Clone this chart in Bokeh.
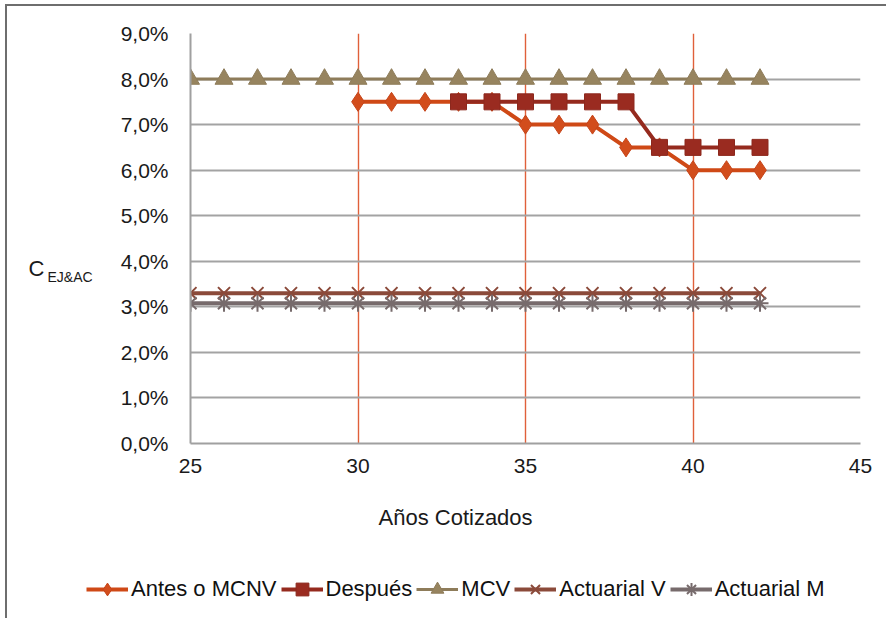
from bokeh.plotting import figure
from bokeh.models import Range1d, Legend, LegendItem, FixedTicker, LinearAxis, Title
from bokeh.layouts import column
from bokeh.embed import file_html
from bokeh.resources import INLINE

# ---- data ----
years_all = [25, 26, 27, 28, 29, 30, 31, 32, 33, 34, 35, 36, 37, 38, 39, 40, 41, 42]
antes_years = [30, 31, 32, 33, 34, 35, 36, 37, 38, 39, 40, 41, 42]
antes = [7.5, 7.5, 7.5, 7.5, 7.5, 7.0, 7.0, 7.0, 6.5, 6.5, 6.0, 6.0, 6.0]
despues_years = [33, 34, 35, 36, 37, 38, 39, 40, 41, 42]
despues = [7.5, 7.5, 7.5, 7.5, 7.5, 7.5, 6.5, 6.5, 6.5, 6.5]
mcv = [8.0, 8.0, 8.0, 8.0, 8.0, 8.0, 8.0, 8.0, 8.0, 8.0, 8.0, 8.0, 8.0, 8.0, 8.0, 8.0, 8.0, 8.0]
act_v = [3.3, 3.3, 3.3, 3.3, 3.3, 3.3, 3.3, 3.3, 3.3, 3.3, 3.3, 3.3, 3.3, 3.3, 3.3, 3.3, 3.3, 3.3]
act_m = [3.08, 3.08, 3.08, 3.08, 3.08, 3.08, 3.08, 3.08, 3.08, 3.08, 3.08, 3.08, 3.08, 3.08, 3.08, 3.08, 3.08, 3.08]

x_ticks = [25, 30, 35, 40, 45]
y_ticks = [0, 1, 2, 3, 4, 5, 6, 7, 8, 9]
y_tick_labels = ["0,0%", "1,0%", "2,0%", "3,0%", "4,0%", "5,0%", "6,0%", "7,0%", "8,0%", "9,0%"]
series_names = ["Antes o MCNV", "Después", "MCV", "Actuarial V", "Actuarial M"]
x_title = "Años Cotizados"
y_title_main = "C"
y_title_sub = "EJ&AC"

FONT = "Liberation Sans"

# series styles
STY = [
    dict(line="#cf4916", lw=4, marker="diamond", size=19, fill="#d24d1c", mline="#c6451a", mlw=1),
    dict(line="#952a1e", lw=4, marker="square", size=16, fill="#9a2b20", mline="#8c281d", mlw=1),
    dict(line="#8e7c5a", lw=3, marker="triangle", size=18, fill="#97845f", mline="#8e7c5a", mlw=1),
    dict(line="#8b4a3a", lw=4, marker="x", size=17, fill=None, mline="#8b4a3a", mlw=2),
    dict(line="#776b6c", lw=4, marker="asterisk", size=17, fill=None, mline="#776b6c", mlw=2),
]
xs = [antes_years, despues_years, years_all, years_all, years_all]
ys = [antes, despues, mcv, act_v, act_m]

p = figure(frame_width=670, frame_height=410, output_backend="svg", toolbar_location=None,
           x_range=Range1d(25, 45), y_range=Range1d(0, 9),
           min_border_left=183, min_border_right=26, min_border_top=27, min_border_bottom=120)
p.outline_line_color = None
p.background_fill_color = "white"
p.border_fill_color = "white"

# axes
yax = p.yaxis[0]
xax = p.xaxis[0]
for ax in (xax, yax):
    ax.major_tick_line_color = None
    ax.minor_tick_line_color = None
    ax.axis_line_color = "#a0a0a0"
    ax.axis_line_width = 2
    ax.major_label_text_font = FONT
    ax.major_label_text_font_size = "21px"
    ax.major_label_text_color = "#1a1a1a"
xax.ticker = FixedTicker(ticks=x_ticks)
yax.ticker = FixedTicker(ticks=y_ticks)
xax.major_label_standoff = 9
yax.major_label_standoff = 16
yax.major_label_overrides = {t: s for t, s in zip(y_ticks, y_tick_labels)}

# y title: subscript on inner axis, main letter on an outer axis
yax.axis_label = "\n\n\n\n" + y_title_sub
yax.axis_label_orientation = "horizontal"
yax.axis_label_standoff = 25
yax.axis_label_text_font = FONT
yax.axis_label_text_font_size = "14px"
yax.axis_label_text_font_style = "normal"
yax.axis_label_text_color = "#1a1a1a"

outer = LinearAxis(ticker=FixedTicker(ticks=[]), axis_line_color=None,
                   major_tick_line_color=None, minor_tick_line_color=None,
                   axis_label="\n\n" + y_title_main, axis_label_orientation="horizontal",
                   axis_label_standoff=0, axis_label_text_font=FONT,
                   axis_label_text_font_size="22px", axis_label_text_font_style="normal",
                   axis_label_text_color="#1a1a1a")
p.add_layout(outer, "left")

# x title as a below-title with offset
p.add_layout(Title(text=x_title, align="left", offset=188, standoff=55,
                   text_font=FONT, text_font_size="22px", text_font_style="normal",
                   text_color="#1a1a1a"), "below")

# grids
p.xgrid[0].ticker = FixedTicker(ticks=x_ticks[1:])
p.xgrid[0].grid_line_color = "#e0603a"
p.xgrid[0].grid_line_width = 1.4
p.ygrid[0].ticker = FixedTicker(ticks=y_ticks[1:])
p.ygrid[0].grid_line_color = "#a3a3a3"
p.ygrid[0].grid_line_width = 2

# series
for x, y, s in zip(xs, ys, STY):
    p.line(x, y, line_color=s["line"], line_width=s["lw"])
    p.scatter(x, y, marker=s["marker"], size=s["size"], fill_color=s["fill"],
              line_color=s["mline"], line_width=s["mlw"])

# legend strip below the chart (its renderers only provide the legend swatches)
q = figure(width=879, height=55, output_backend="svg", toolbar_location=None,
           x_axis_type=None, y_axis_type=None, min_border=0,
           x_range=Range1d(0, 1), y_range=Range1d(0, 1))
q.outline_line_color = None
q.border_fill_color = "white"
items = []
for name, x, y, s in zip(series_names, xs, ys, STY):
    lr = q.line(x, y, line_color=s["line"], line_width=s["lw"], visible=False)
    mr = q.scatter(x, y, marker=s["marker"], size=s["size"], fill_color=s["fill"],
                   line_color=s["mline"], line_width=s["mlw"], visible=False)
    items.append(LegendItem(label=name, renderers=[lr, mr]))

legend = Legend(items=items, orientation="horizontal", location=(79, 13))
legend.glyph_width = 42
legend.glyph_height = 32
legend.label_standoff = 3
legend.spacing = 4
legend.padding = 0
legend.margin = 0
legend.border_line_color = None
legend.background_fill_alpha = 0
legend.inactive_fill_alpha = 0
legend.label_text_font = FONT
legend.label_text_font_size = "22px"
legend.label_text_color = "#111111"
legend.label_height = 22
q.add_layout(legend, "center")

lay = column(p, column(q, spacing=0), spacing=0)
lay.styles = {"margin-left": "5px", "margin-top": "4px",
              "border-left": "2px solid #6e6e6e", "border-top": "2px solid #6e6e6e"}

open("out.html", "w").write(file_html(lay, INLINE))
